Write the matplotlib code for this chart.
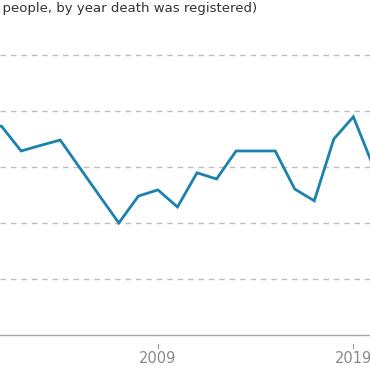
import matplotlib
matplotlib.use("Agg")
import matplotlib.pyplot as plt

# rate per 100,000 people, by year death was registered
years = [2000, 2001, 2002, 2003, 2004, 2005, 2006, 2007, 2008, 2009, 2010,
         2011, 2012, 2013, 2014, 2015, 2016, 2017, 2018, 2019, 2020]
rates = [7.6, 7.45, 6.57, 6.77, 6.96, 5.97, 4.98, 4.0, 4.96, 5.18, 4.57,
         5.79, 5.57, 6.57, 6.57, 6.57, 5.21, 4.79, 7.0, 7.79, 6.05]
grid_values = [2, 4, 6, 8, 10]
tick_years = [2009, 2019]
title = "Suicide rate (per 100,000 people, by year death was registered)"

fig = plt.figure(figsize=(3.7, 3.7), dpi=100)
ax = fig.add_axes([0, 0, 1, 1])
ax.set_xlim(2000.92, 2019.85)
ax.set_ylim(-1.25, 11.96)
ax.axis("off")

for g in grid_values:
    ax.axhline(g, color="#bdbdbd", lw=1, ls=(0, (4, 3.5)), zorder=1)
ax.axhline(0, color="#a6a6a6", lw=1, zorder=1)

ax.plot(years, rates, color="#1b82ae", lw=2, solid_joinstyle="miter", zorder=3)

for yr in tick_years:
    ax.plot([yr, yr], [-0.32, -0.47], color="#999999", lw=0.8)
    ax.text(yr, -0.58, str(yr), ha="center", va="top", fontsize=10.5,
            color="#8a8a8a")

fig.text(257 / 370, 0.978, title, ha="right", va="center", fontsize=9.55,
         color="#333333")

fig.savefig("out.png", dpi=100)
